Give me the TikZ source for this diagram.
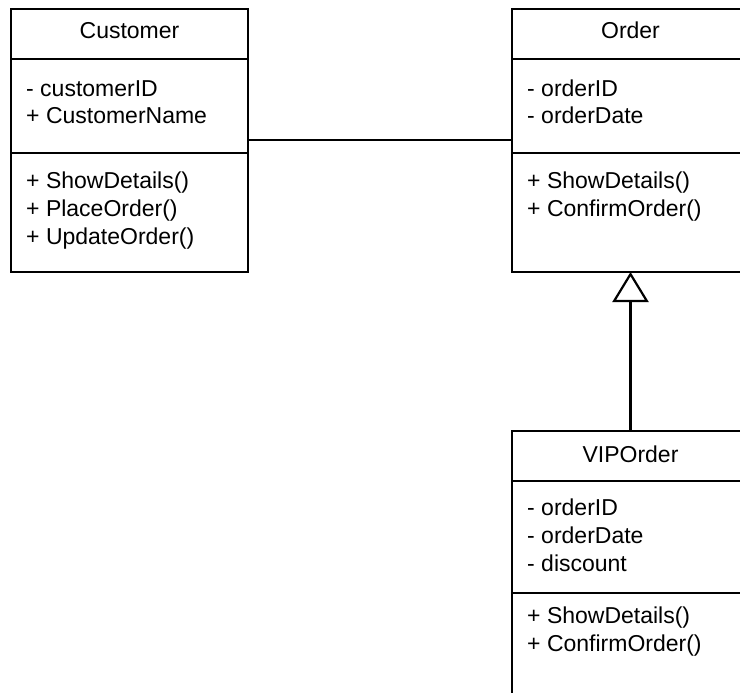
\documentclass[tikz,border=0pt]{standalone}
\usepackage{fontspec}
\setmainfont{Liberation Sans}
\usetikzlibrary{arrows.meta,positioning}

\begin{document}
\begin{tikzpicture}[x=1pt,y=-1pt,
		box/.style={draw,line width=2.2pt,minimum width=237pt,anchor=north west,inner sep=0pt,outer sep=0pt},
		title/.style={anchor=base,inner sep=0pt,font=\fontsize{23}{28}\selectfont},
		member/.style={anchor=base west,inner sep=0pt,font=\fontsize{23}{28}\selectfont}]
				\useasboundingbox (0,0) rectangle (740,693);
				\clip (0,0) rectangle (740,693);
				% Customer
				\node[box,minimum height=50pt] (chead) at (11,9) {};
				\node[box,minimum height=94pt] (cattr) at (chead.south west) {};
				\node[box,minimum height=119pt] (cmeth) at (cattr.south west) {};
				\node[title] (ctitle) at ([shift={(0,30)}]chead.north) {Customer};
				\foreach \m [count=\i] in {- customerID, + CustomerName}
					\node[member] (ca\i) at ([shift={(15,9+28*\i)}]cattr.north west) {\m};
				\foreach \m [count=\i] in {+ ShowDetails(), + PlaceOrder(), + UpdateOrder()}
					\node[member] (cm\i) at ([shift={(15,7+28*\i)}]cmeth.north west) {\m};
				% Order
				\node[box,minimum height=50pt] (ohead) at (512,9) {};
				\node[box,minimum height=94pt] (oattr) at (ohead.south west) {};
				\node[box,minimum height=119pt] (ometh) at (oattr.south west) {};
				\node[title] (otitle) at ([shift={(0,30)}]ohead.north) {Order};
				\foreach \m [count=\i] in {- orderID, - orderDate}
					\node[member] (oa\i) at ([shift={(15,9+28*\i)}]oattr.north west) {\m};
				\foreach \m [count=\i] in {+ ShowDetails(), + ConfirmOrder()}
					\node[member] (om\i) at ([shift={(15,7+28*\i)}]ometh.north west) {\m};
				% VIPOrder
				\node[box,minimum height=50pt] (vhead) at (512,431) {};
				\node[box,minimum height=112pt] (vattr) at (vhead.south west) {};
				\node[box,minimum height=120pt] (vmeth) at (vattr.south west) {};
				\node[title] (vtitle) at ([shift={(0,31)}]vhead.north) {VIPOrder};
				\foreach \m [count=\i] in {- orderID, - orderDate, - discount}
					\node[member] (va\i) at ([shift={(15,6+28*\i)}]vattr.north west) {\m};
				\foreach \m [count=\i] in {+ ShowDetails(), + ConfirmOrder()}
					\node[member] (vm\i) at ([shift={(15,2+28*\i)}]vmeth.north west) {\m};
				% links
				\draw[line width=2.2pt] ([shift={(0,-13)}]cattr.south east) -- ([shift={(0,-13)}]oattr.south west);
				\draw[line width=2.2pt,-{Triangle[open,length=30pt,width=36pt]}] (vhead.north) -- (ometh.south);
			\end{tikzpicture}
\end{document}
